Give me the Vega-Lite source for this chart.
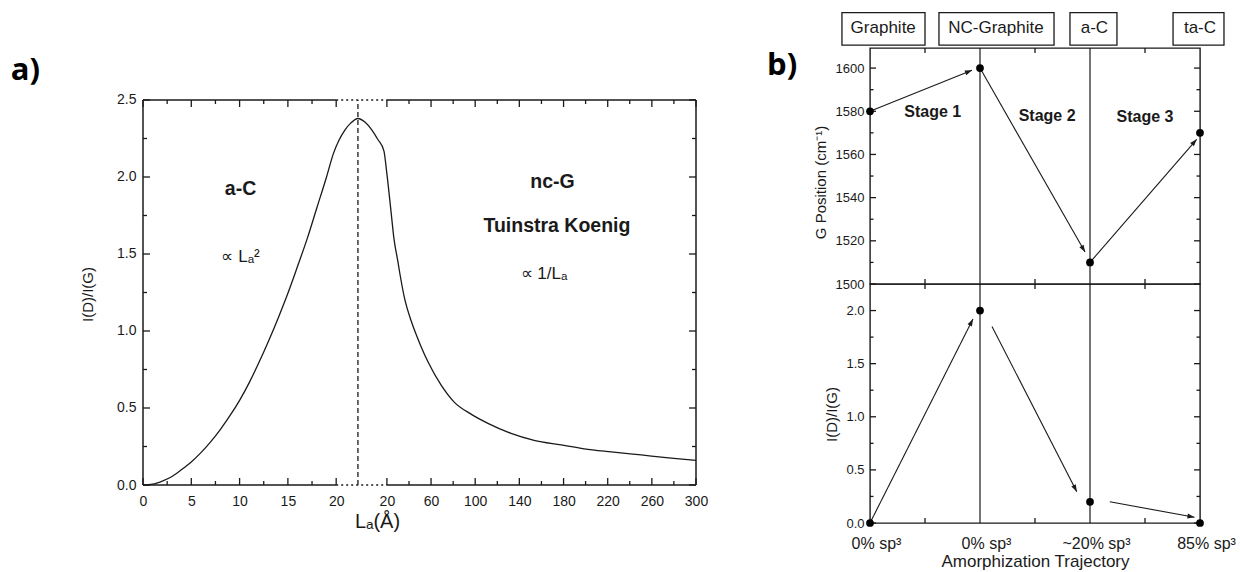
{
"$schema": "https://vega.github.io/schema/vega-lite/v6.json",
"background": "white",
"padding": {"left": 10, "top": 12, "right": 0, "bottom": 0},
"config": {
  "font": "Liberation Sans",
  "view": {"stroke": null},
  "axis": {"domain": false, "grid": false, "ticks": false, "minExtent": 0, "labelColor": "#1a1a1a", "titleColor": "#1a1a1a", "titleFontWeight": "normal", "labelFont": "Liberation Sans", "titleFont": "Liberation Sans"},
  "rule": {"color": "#1a1a1a"},
  "text": {"font": "Liberation Sans", "color": "#1a1a1a"}
},
"datasets": {
  "curve": [
    {"pos":0,"ratio":0},{"pos":1,"ratio":0.005},{"pos":2,"ratio":0.025},{"pos":3,"ratio":0.055},{"pos":4,"ratio":0.1},
    {"pos":5,"ratio":0.15},{"pos":6,"ratio":0.21},{"pos":7,"ratio":0.28},{"pos":8,"ratio":0.36},{"pos":9,"ratio":0.45},
    {"pos":10,"ratio":0.55},{"pos":11,"ratio":0.665},{"pos":12,"ratio":0.795},{"pos":13,"ratio":0.935},{"pos":14,"ratio":1.085},
    {"pos":15,"ratio":1.245},{"pos":16,"ratio":1.42},{"pos":17,"ratio":1.6},{"pos":18,"ratio":1.8},{"pos":19,"ratio":2.0},
    {"pos":19.7,"ratio":2.15},{"pos":20.3,"ratio":2.24},{"pos":20.9,"ratio":2.305},{"pos":21.5,"ratio":2.35},{"pos":22.25,"ratio":2.38},
    {"pos":23.0,"ratio":2.355},{"pos":23.7,"ratio":2.305},{"pos":24.3,"ratio":2.245},{"pos":24.94,"ratio":2.17},
    {"pos":25.25,"ratio":2.02},{"pos":25.67,"ratio":1.78},{"pos":25.98,"ratio":1.6},{"pos":26.39,"ratio":1.45},{"pos":26.6,"ratio":1.37},
    {"pos":27.12,"ratio":1.2},{"pos":27.74,"ratio":1.07},{"pos":28.26,"ratio":0.98},{"pos":28.78,"ratio":0.9},{"pos":29.5,"ratio":0.8},
    {"pos":30.85,"ratio":0.65},{"pos":32.19,"ratio":0.54},{"pos":33.96,"ratio":0.46},{"pos":35.71,"ratio":0.4},{"pos":38.1,"ratio":0.335},
    {"pos":40.49,"ratio":0.29},{"pos":43.29,"ratio":0.26},{"pos":45.67,"ratio":0.235},{"pos":48.47,"ratio":0.215},{"pos":51.57,"ratio":0.195},
    {"pos":54.68,"ratio":0.175},{"pos":57.25,"ratio":0.16}
  ],
  "aTicksX": [
    {"pos":0,"edge":0,"kind":"major"},{"pos":5,"edge":0,"kind":"major"},{"pos":10,"edge":0,"kind":"major"},{"pos":15,"edge":0,"kind":"major"},{"pos":20,"edge":0,"kind":"major"},
    {"pos":25.25,"edge":0,"kind":"major"},{"pos":29.82,"edge":0,"kind":"major"},{"pos":34.39,"edge":0,"kind":"major"},{"pos":38.96,"edge":0,"kind":"major"},
    {"pos":43.54,"edge":0,"kind":"major"},{"pos":48.11,"edge":0,"kind":"major"},{"pos":52.68,"edge":0,"kind":"major"},{"pos":57.25,"edge":0,"kind":"major"},
    {"pos":0,"edge":2.5,"kind":"major"},{"pos":5,"edge":2.5,"kind":"major"},{"pos":10,"edge":2.5,"kind":"major"},{"pos":15,"edge":2.5,"kind":"major"},{"pos":20,"edge":2.5,"kind":"major"},
    {"pos":25.25,"edge":2.5,"kind":"major"},{"pos":29.82,"edge":2.5,"kind":"major"},{"pos":34.39,"edge":2.5,"kind":"major"},{"pos":38.96,"edge":2.5,"kind":"major"},
    {"pos":43.54,"edge":2.5,"kind":"major"},{"pos":48.11,"edge":2.5,"kind":"major"},{"pos":52.68,"edge":2.5,"kind":"major"},{"pos":57.25,"edge":2.5,"kind":"major"},
    {"pos":2.5,"edge":0,"kind":"minor"},{"pos":7.5,"edge":0,"kind":"minor"},{"pos":12.5,"edge":0,"kind":"minor"},{"pos":17.5,"edge":0,"kind":"minor"},
    {"pos":27.54,"edge":0,"kind":"minor"},{"pos":32.11,"edge":0,"kind":"minor"},{"pos":36.68,"edge":0,"kind":"minor"},{"pos":41.25,"edge":0,"kind":"minor"},
    {"pos":45.82,"edge":0,"kind":"minor"},{"pos":50.39,"edge":0,"kind":"minor"},{"pos":54.96,"edge":0,"kind":"minor"},
    {"pos":2.5,"edge":2.5,"kind":"minor"},{"pos":7.5,"edge":2.5,"kind":"minor"},{"pos":12.5,"edge":2.5,"kind":"minor"},{"pos":17.5,"edge":2.5,"kind":"minor"},
    {"pos":27.54,"edge":2.5,"kind":"minor"},{"pos":32.11,"edge":2.5,"kind":"minor"},{"pos":36.68,"edge":2.5,"kind":"minor"},{"pos":41.25,"edge":2.5,"kind":"minor"},
    {"pos":45.82,"edge":2.5,"kind":"minor"},{"pos":50.39,"edge":2.5,"kind":"minor"},{"pos":54.96,"edge":2.5,"kind":"minor"}
  ],
  "aTicksY": [
    {"v":0,"edge":0,"kind":"major"},{"v":0.5,"edge":0,"kind":"major"},{"v":1,"edge":0,"kind":"major"},{"v":1.5,"edge":0,"kind":"major"},{"v":2,"edge":0,"kind":"major"},{"v":2.5,"edge":0,"kind":"major"},
    {"v":0,"edge":57.25,"kind":"major"},{"v":0.5,"edge":57.25,"kind":"major"},{"v":1,"edge":57.25,"kind":"major"},{"v":1.5,"edge":57.25,"kind":"major"},{"v":2,"edge":57.25,"kind":"major"},{"v":2.5,"edge":57.25,"kind":"major"},
    {"v":0.25,"edge":0,"kind":"minor"},{"v":0.75,"edge":0,"kind":"minor"},{"v":1.25,"edge":0,"kind":"minor"},{"v":1.75,"edge":0,"kind":"minor"},{"v":2.25,"edge":0,"kind":"minor"},
    {"v":0.25,"edge":57.25,"kind":"minor"},{"v":0.75,"edge":57.25,"kind":"minor"},{"v":1.25,"edge":57.25,"kind":"minor"},{"v":1.75,"edge":57.25,"kind":"minor"},{"v":2.25,"edge":57.25,"kind":"minor"}
  ],
  "gTicksX": [
    {"s":0.5,"edge":1500},{"s":1.5,"edge":1500},{"s":2.5,"edge":1500},
    {"s":0.5,"edge":1609.3},{"s":1.5,"edge":1609.3},{"s":2.5,"edge":1609.3}
  ],
  "gTicksY": [
    {"v":1500,"edge":0,"kind":"major"},{"v":1520,"edge":0,"kind":"major"},{"v":1540,"edge":0,"kind":"major"},{"v":1560,"edge":0,"kind":"major"},{"v":1580,"edge":0,"kind":"major"},{"v":1600,"edge":0,"kind":"major"},
    {"v":1500,"edge":3,"kind":"major"},{"v":1520,"edge":3,"kind":"major"},{"v":1540,"edge":3,"kind":"major"},{"v":1560,"edge":3,"kind":"major"},{"v":1580,"edge":3,"kind":"major"},{"v":1600,"edge":3,"kind":"major"},
    {"v":1510,"edge":0,"kind":"minor"},{"v":1530,"edge":0,"kind":"minor"},{"v":1550,"edge":0,"kind":"minor"},{"v":1570,"edge":0,"kind":"minor"},{"v":1590,"edge":0,"kind":"minor"},
    {"v":1510,"edge":3,"kind":"minor"},{"v":1530,"edge":3,"kind":"minor"},{"v":1550,"edge":3,"kind":"minor"},{"v":1570,"edge":3,"kind":"minor"},{"v":1590,"edge":3,"kind":"minor"}
  ],
  "rTicksX": [
    {"s":0.5,"edge":0},{"s":1.5,"edge":0},{"s":2.5,"edge":0},
    {"s":0.5,"edge":2.25},{"s":1.5,"edge":2.25},{"s":2.5,"edge":2.25}
  ],
  "rTicksY": [
    {"v":0,"edge":0,"kind":"major"},{"v":0.5,"edge":0,"kind":"major"},{"v":1,"edge":0,"kind":"major"},{"v":1.5,"edge":0,"kind":"major"},{"v":2,"edge":0,"kind":"major"},
    {"v":0,"edge":3,"kind":"major"},{"v":0.5,"edge":3,"kind":"major"},{"v":1,"edge":3,"kind":"major"},{"v":1.5,"edge":3,"kind":"major"},{"v":2,"edge":3,"kind":"major"},
    {"v":0.25,"edge":0,"kind":"minor"},{"v":0.75,"edge":0,"kind":"minor"},{"v":1.25,"edge":0,"kind":"minor"},{"v":1.75,"edge":0,"kind":"minor"},
    {"v":0.25,"edge":3,"kind":"minor"},{"v":0.75,"edge":3,"kind":"minor"},{"v":1.25,"edge":3,"kind":"minor"},{"v":1.75,"edge":3,"kind":"minor"}
  ],
  "annotBold": [
    {"pos":10.1,"ratio":1.92,"label":"a-C"},
    {"pos":42.4,"ratio":1.97,"label":"nc-G"},
    {"pos":42.85,"ratio":1.68,"label":"Tuinstra Koenig"}
  ],
  "annotPlain": [
    {"pos":10.1,"ratio":1.48,"label":"∝ Lₐ²"},
    {"pos":41.5,"ratio":1.37,"label":"∝ 1/Lₐ"}
  ],
  "header": [
    {"label":"Graphite","from":-0.255,"to":0.5,"mid":0.12},
    {"label":"NC-Graphite","from":0.627,"to":1.673,"mid":1.145},
    {"label":"a-C","from":1.818,"to":2.245,"mid":2.04},
    {"label":"ta-C","from":2.755,"to":3.218,"mid":3.0}
  ],
  "gPos": [{"step":0,"g":1580},{"step":1,"g":1600},{"step":2,"g":1510},{"step":3,"g":1570}],
  "ratioB": [{"step":0,"r":0},{"step":1,"r":2.0},{"step":2,"r":0.2},{"step":3,"r":0.0}],
  "gArrows": [
    {"seg":1,"x0":0,"y0":1580,"x1":0.927,"y1":1599},
    {"seg":2,"x0":1,"y0":1600,"x1":1.955,"y1":1514.8},
    {"seg":3,"x0":2,"y0":1510,"x1":2.97,"y1":1567}
  ],
  "rArrows": [
    {"seg":1,"x0":0,"y0":0,"x1":0.936,"y1":1.92},
    {"seg":2,"x0":1.109,"y0":1.85,"x1":1.88,"y1":0.295},
    {"seg":3,"x0":2.18,"y0":0.2,"x1":2.95,"y1":0.054}
  ],
  "stages": [
    {"label":"Stage 1","step":0.57,"g":1579.6},
    {"label":"Stage 2","step":1.61,"g":1577.8},
    {"label":"Stage 3","step":2.5,"g":1577.3}
  ]
},
"spacing": 58,
"hconcat": [
  {
    "width": 553, "height": 473,
    "encoding": {
      "x": {"type": "quantitative", "scale": {"domain": [0, 57.25], "nice": false, "zero": false},
            "axis": {"orient": "bottom", "values": [0,5,10,15,20,25.25,29.82,34.39,38.96,43.54,48.11,52.68,57.25],
                     "labelExpr": "datum.value <= 20.01 ? format(datum.value, 'd') : format(round(20 + (datum.value - 25.25) / 0.11429), 'd')",
                     "labelPadding": 9, "labelFontSize": 14, "labelFlush": false, "labelOverlap": false,
                     "title": "Lₐ(Å)", "titleFontSize": 20, "titlePadding": 3, "titleX": 234}},
      "y": {"type": "quantitative", "scale": {"domain": [0, 3.0714], "nice": false, "zero": false},
            "axis": {"orient": "left", "values": [0,0.5,1,1.5,2,2.5], "format": ".1f", "labelPadding": 7, "labelFontSize": 14,
                     "title": "I(D)/I(G)", "titleFontSize": 15, "titlePadding": 21, "titleY": 282}}
    },
    "layer": [
      {"data": {"name": "curve"},
       "mark": {"type": "line", "color": "#1a1a1a", "strokeWidth": 1.3, "interpolate": "monotone"},
       "encoding": {"x": {"field": "pos"}, "y": {"field": "ratio"}}},
      {"data": {"name": "aTicksX"}, "transform": [{"filter": "datum.edge == 0 && datum.kind == 'major'"}],
       "mark": {"type": "point", "shape": "M0,0L0,-1", "filled": false, "size": 196, "strokeWidth": 1.3, "color": "#1a1a1a", "opacity": 1},
       "encoding": {"x": {"field": "pos"}, "y": {"field": "edge"}}},
      {"data": {"name": "aTicksX"}, "transform": [{"filter": "datum.edge == 0 && datum.kind == 'minor'"}],
       "mark": {"type": "point", "shape": "M0,0L0,-1", "filled": false, "size": 64, "strokeWidth": 1.3, "color": "#1a1a1a", "opacity": 1},
       "encoding": {"x": {"field": "pos"}, "y": {"field": "edge"}}},
      {"data": {"name": "aTicksX"}, "transform": [{"filter": "datum.edge > 0 && datum.kind == 'major'"}],
       "mark": {"type": "point", "shape": "M0,0L0,1", "filled": false, "size": 196, "strokeWidth": 1.3, "color": "#1a1a1a", "opacity": 1},
       "encoding": {"x": {"field": "pos"}, "y": {"field": "edge"}}},
      {"data": {"name": "aTicksX"}, "transform": [{"filter": "datum.edge > 0 && datum.kind == 'minor'"}],
       "mark": {"type": "point", "shape": "M0,0L0,1", "filled": false, "size": 64, "strokeWidth": 1.3, "color": "#1a1a1a", "opacity": 1},
       "encoding": {"x": {"field": "pos"}, "y": {"field": "edge"}}},
      {"data": {"name": "aTicksY"}, "transform": [{"filter": "datum.edge == 0 && datum.kind == 'major'"}],
       "mark": {"type": "point", "shape": "M0,0L1,0", "filled": false, "size": 196, "strokeWidth": 1.3, "color": "#1a1a1a", "opacity": 1},
       "encoding": {"x": {"field": "edge"}, "y": {"field": "v"}}},
      {"data": {"name": "aTicksY"}, "transform": [{"filter": "datum.edge == 0 && datum.kind == 'minor'"}],
       "mark": {"type": "point", "shape": "M0,0L1,0", "filled": false, "size": 64, "strokeWidth": 1.3, "color": "#1a1a1a", "opacity": 1},
       "encoding": {"x": {"field": "edge"}, "y": {"field": "v"}}},
      {"data": {"name": "aTicksY"}, "transform": [{"filter": "datum.edge > 0 && datum.kind == 'major'"}],
       "mark": {"type": "point", "shape": "M0,0L-1,0", "filled": false, "size": 196, "strokeWidth": 1.3, "color": "#1a1a1a", "opacity": 1},
       "encoding": {"x": {"field": "edge"}, "y": {"field": "v"}}},
      {"data": {"name": "aTicksY"}, "transform": [{"filter": "datum.edge > 0 && datum.kind == 'minor'"}],
       "mark": {"type": "point", "shape": "M0,0L-1,0", "filled": false, "size": 64, "strokeWidth": 1.3, "color": "#1a1a1a", "opacity": 1},
       "encoding": {"x": {"field": "edge"}, "y": {"field": "v"}}},
      {"data": {"values": [{}]}, "mark": {"type": "rule", "strokeWidth": 1.5},
       "encoding": {"x": {"datum": 0}, "y": {"datum": 0}, "y2": {"datum": 2.5}}},
      {"data": {"values": [{}]}, "mark": {"type": "rule", "strokeWidth": 1.5},
       "encoding": {"x": {"datum": 57.25}, "y": {"datum": 0}, "y2": {"datum": 2.5}}},
      {"data": {"values": [{}]}, "mark": {"type": "rule", "strokeWidth": 1.5},
       "encoding": {"x": {"datum": 0}, "x2": {"datum": 20}, "y": {"datum": 0}}},
      {"data": {"values": [{}]}, "mark": {"type": "rule", "strokeWidth": 1.5},
       "encoding": {"x": {"datum": 25.25}, "x2": {"datum": 57.25}, "y": {"datum": 0}}},
      {"data": {"values": [{}]}, "mark": {"type": "rule", "strokeWidth": 1.5},
       "encoding": {"x": {"datum": 0}, "x2": {"datum": 20}, "y": {"datum": 2.5}}},
      {"data": {"values": [{}]}, "mark": {"type": "rule", "strokeWidth": 1.5},
       "encoding": {"x": {"datum": 25.25}, "x2": {"datum": 57.25}, "y": {"datum": 2.5}}},
      {"data": {"values": [{}]}, "mark": {"type": "rule", "strokeWidth": 1.4, "strokeDash": [2, 3]},
       "encoding": {"x": {"datum": 20}, "x2": {"datum": 25.25}, "y": {"datum": 0}}},
      {"data": {"values": [{}]}, "mark": {"type": "rule", "strokeWidth": 1.4, "strokeDash": [2, 3]},
       "encoding": {"x": {"datum": 20}, "x2": {"datum": 25.25}, "y": {"datum": 2.5}}},
      {"data": {"values": [{}]}, "mark": {"type": "rule", "strokeWidth": 1.3, "strokeDash": [5, 3]},
       "encoding": {"x": {"datum": 22.25}, "y": {"datum": 0}, "y2": {"datum": 2.5}}},
      {"data": {"name": "annotBold"},
       "mark": {"type": "text", "fontSize": 19.5, "fontWeight": "bold", "align": "center", "baseline": "middle"},
       "encoding": {"x": {"field": "pos"}, "y": {"field": "ratio"}, "text": {"field": "label"}}},
      {"data": {"name": "annotPlain"},
       "mark": {"type": "text", "fontSize": 17, "align": "center", "baseline": "middle"},
       "encoding": {"x": {"field": "pos"}, "y": {"field": "ratio"}, "text": {"field": "label"}}},
      {"data": {"values": [{}]},
       "mark": {"type": "text", "text": "a)", "font": "Open Sans", "fontSize": 31, "fontWeight": "bold", "align": "left", "baseline": "middle", "color": "#000"},
       "encoding": {"x": {"datum": -13.7}, "y": {"datum": 2.69}}}
    ]
  },
  {
    "spacing": 0,
    "bounds": "flush",
    "vconcat": [
      {
        "width": 330, "height": 36,
        "encoding": {
          "x": {"type": "quantitative", "scale": {"domain": [0, 3], "nice": false, "zero": false}, "axis": null},
          "y": {"type": "quantitative", "scale": {"domain": [0, 1], "nice": false, "zero": false}, "axis": null}
        },
        "layer": [
          {"data": {"name": "header"},
           "mark": {"type": "rect", "fill": "white", "stroke": "#1a1a1a", "strokeWidth": 1.3},
           "encoding": {"x": {"field": "from"}, "x2": {"field": "to"}, "y": {"datum": 0.08}, "y2": {"datum": 0.98}}},
          {"data": {"name": "header"},
           "mark": {"type": "text", "fontSize": 17, "align": "center", "baseline": "middle"},
           "encoding": {"x": {"field": "mid"}, "y": {"datum": 0.55}, "text": {"field": "label"}}}
        ]
      },
      {
        "width": 330, "height": 236,
        "view": {"stroke": "#1a1a1a", "strokeWidth": 1.4},
        "encoding": {
          "x": {"type": "quantitative", "scale": {"domain": [0, 3], "nice": false, "zero": false}, "axis": null},
          "y": {"type": "quantitative", "scale": {"domain": [1500, 1609.3], "nice": false, "zero": false},
                "axis": {"orient": "left", "values": [1500,1520,1540,1560,1580,1600], "format": "d", "labelPadding": 6, "labelFontSize": 13,
                         "title": "G Position (cm⁻¹)", "titleFontSize": 15, "titlePadding": 7, "titleY": 134}}
        },
        "layer": [
          {"data": {"values": [{}]}, "mark": {"type": "rule", "strokeWidth": 1.2},
           "encoding": {"x": {"datum": 1}, "y": {"datum": 1500}, "y2": {"datum": 1609.3}}},
          {"data": {"values": [{}]}, "mark": {"type": "rule", "strokeWidth": 1.2},
           "encoding": {"x": {"datum": 2}, "y": {"datum": 1500}, "y2": {"datum": 1609.3}}},
          {"data": {"name": "gTicksX"}, "transform": [{"filter": "datum.edge < 1600"}],
           "mark": {"type": "point", "shape": "M0,0L0,-1", "filled": false, "size": 100, "strokeWidth": 1.3, "color": "#1a1a1a", "opacity": 1},
           "encoding": {"x": {"field": "s"}, "y": {"field": "edge"}}},
          {"data": {"name": "gTicksX"}, "transform": [{"filter": "datum.edge > 1600"}],
           "mark": {"type": "point", "shape": "M0,0L0,1", "filled": false, "size": 100, "strokeWidth": 1.3, "color": "#1a1a1a", "opacity": 1},
           "encoding": {"x": {"field": "s"}, "y": {"field": "edge"}}},
          {"data": {"name": "gTicksY"}, "transform": [{"filter": "datum.edge == 0 && datum.kind == 'major'"}],
           "mark": {"type": "point", "shape": "M0,0L1,0", "filled": false, "size": 144, "strokeWidth": 1.3, "color": "#1a1a1a", "opacity": 1},
           "encoding": {"x": {"field": "edge"}, "y": {"field": "v"}}},
          {"data": {"name": "gTicksY"}, "transform": [{"filter": "datum.edge == 0 && datum.kind == 'minor'"}],
           "mark": {"type": "point", "shape": "M0,0L1,0", "filled": false, "size": 49, "strokeWidth": 1.3, "color": "#1a1a1a", "opacity": 1},
           "encoding": {"x": {"field": "edge"}, "y": {"field": "v"}}},
          {"data": {"name": "gTicksY"}, "transform": [{"filter": "datum.edge > 0 && datum.kind == 'major'"}],
           "mark": {"type": "point", "shape": "M0,0L-1,0", "filled": false, "size": 144, "strokeWidth": 1.3, "color": "#1a1a1a", "opacity": 1},
           "encoding": {"x": {"field": "edge"}, "y": {"field": "v"}}},
          {"data": {"name": "gTicksY"}, "transform": [{"filter": "datum.edge > 0 && datum.kind == 'minor'"}],
           "mark": {"type": "point", "shape": "M0,0L-1,0", "filled": false, "size": 49, "strokeWidth": 1.3, "color": "#1a1a1a", "opacity": 1},
           "encoding": {"x": {"field": "edge"}, "y": {"field": "v"}}},
          {"data": {"name": "gArrows"}, "mark": {"type": "rule", "strokeWidth": 1.1},
           "encoding": {"x": {"field": "x0"}, "x2": {"field": "x1"}, "y": {"field": "y0"}, "y2": {"field": "y1"}}},
          {"data": {"name": "gArrows"}, "transform": [{"filter": "datum.seg == 1"}],
           "mark": {"type": "point", "shape": "M0,0L-0.35,1L0.35,1Z", "filled": true, "size": 200, "angle": 68, "color": "#1a1a1a", "opacity": 1},
           "encoding": {"x": {"field": "x1"}, "y": {"field": "y1"}}},
          {"data": {"name": "gArrows"}, "transform": [{"filter": "datum.seg == 2"}],
           "mark": {"type": "point", "shape": "M0,0L-0.35,1L0.35,1Z", "filled": true, "size": 200, "angle": 150, "color": "#1a1a1a", "opacity": 1},
           "encoding": {"x": {"field": "x1"}, "y": {"field": "y1"}}},
          {"data": {"name": "gArrows"}, "transform": [{"filter": "datum.seg == 3"}],
           "mark": {"type": "point", "shape": "M0,0L-0.35,1L0.35,1Z", "filled": true, "size": 200, "angle": 41, "color": "#1a1a1a", "opacity": 1},
           "encoding": {"x": {"field": "x1"}, "y": {"field": "y1"}}},
          {"data": {"name": "gPos"},
           "mark": {"type": "point", "shape": "circle", "filled": true, "size": 60, "color": "#000", "opacity": 1},
           "encoding": {"x": {"field": "step"}, "y": {"field": "g"}}},
          {"data": {"name": "stages"},
           "mark": {"type": "text", "fontSize": 16, "fontWeight": "bold", "align": "center", "baseline": "middle"},
           "encoding": {"x": {"field": "step"}, "y": {"field": "g"}, "text": {"field": "label"}}},
          {"data": {"values": [{}]},
           "mark": {"type": "text", "text": "b)", "font": "Open Sans", "fontSize": 31, "fontWeight": "bold", "align": "left", "baseline": "middle", "color": "#000"},
           "encoding": {"x": {"datum": -0.936}, "y": {"datum": 1600.9}}}
        ]
      },
      {
        "width": 330, "height": 239,
        "view": {"stroke": "#1a1a1a", "strokeWidth": 1.4},
        "encoding": {
          "x": {"type": "quantitative", "scale": {"domain": [0, 3], "nice": false, "zero": false},
                "axis": {"orient": "bottom", "values": [0,1,2,3], "labelExpr": "['0% sp³','0% sp³','~20% sp³','85% sp³'][datum.value]",
                         "labelPadding": 12, "labelFontSize": 16, "labelOffset": 6, "labelFlush": false, "labelOverlap": false,
                         "title": "Amorphization Trajectory", "titleFontSize": 17, "titlePadding": 2}},
          "y": {"type": "quantitative", "scale": {"domain": [0, 2.25], "nice": false, "zero": false},
                "axis": {"orient": "left", "values": [0,0.5,1,1.5,2], "format": ".1f", "labelPadding": 6, "labelFontSize": 13,
                         "title": "I(D)/I(G)", "titleFontSize": 15, "titlePadding": 6, "titleY": 130}}
        },
        "layer": [
          {"data": {"values": [{}]}, "mark": {"type": "rule", "strokeWidth": 1.2},
           "encoding": {"x": {"datum": 1}, "y": {"datum": 0}, "y2": {"datum": 2.25}}},
          {"data": {"values": [{}]}, "mark": {"type": "rule", "strokeWidth": 1.2},
           "encoding": {"x": {"datum": 2}, "y": {"datum": 0}, "y2": {"datum": 2.25}}},
          {"data": {"name": "rTicksX"}, "transform": [{"filter": "datum.edge == 0"}],
           "mark": {"type": "point", "shape": "M0,0L0,-1", "filled": false, "size": 100, "strokeWidth": 1.3, "color": "#1a1a1a", "opacity": 1},
           "encoding": {"x": {"field": "s"}, "y": {"field": "edge"}}},
          {"data": {"name": "rTicksX"}, "transform": [{"filter": "datum.edge > 0"}],
           "mark": {"type": "point", "shape": "M0,0L0,1", "filled": false, "size": 100, "strokeWidth": 1.3, "color": "#1a1a1a", "opacity": 1},
           "encoding": {"x": {"field": "s"}, "y": {"field": "edge"}}},
          {"data": {"name": "rTicksY"}, "transform": [{"filter": "datum.edge == 0 && datum.kind == 'major'"}],
           "mark": {"type": "point", "shape": "M0,0L1,0", "filled": false, "size": 144, "strokeWidth": 1.3, "color": "#1a1a1a", "opacity": 1},
           "encoding": {"x": {"field": "edge"}, "y": {"field": "v"}}},
          {"data": {"name": "rTicksY"}, "transform": [{"filter": "datum.edge == 0 && datum.kind == 'minor'"}],
           "mark": {"type": "point", "shape": "M0,0L1,0", "filled": false, "size": 49, "strokeWidth": 1.3, "color": "#1a1a1a", "opacity": 1},
           "encoding": {"x": {"field": "edge"}, "y": {"field": "v"}}},
          {"data": {"name": "rTicksY"}, "transform": [{"filter": "datum.edge > 0 && datum.kind == 'major'"}],
           "mark": {"type": "point", "shape": "M0,0L-1,0", "filled": false, "size": 144, "strokeWidth": 1.3, "color": "#1a1a1a", "opacity": 1},
           "encoding": {"x": {"field": "edge"}, "y": {"field": "v"}}},
          {"data": {"name": "rTicksY"}, "transform": [{"filter": "datum.edge > 0 && datum.kind == 'minor'"}],
           "mark": {"type": "point", "shape": "M0,0L-1,0", "filled": false, "size": 49, "strokeWidth": 1.3, "color": "#1a1a1a", "opacity": 1},
           "encoding": {"x": {"field": "edge"}, "y": {"field": "v"}}},
          {"data": {"name": "rArrows"}, "mark": {"type": "rule", "strokeWidth": 1.1},
           "encoding": {"x": {"field": "x0"}, "x2": {"field": "x1"}, "y": {"field": "y0"}, "y2": {"field": "y1"}}},
          {"data": {"name": "rArrows"}, "transform": [{"filter": "datum.seg == 1"}],
           "mark": {"type": "point", "shape": "M0,0L-0.35,1L0.35,1Z", "filled": true, "size": 200, "angle": 27, "color": "#1a1a1a", "opacity": 1},
           "encoding": {"x": {"field": "x1"}, "y": {"field": "y1"}}},
          {"data": {"name": "rArrows"}, "transform": [{"filter": "datum.seg == 2"}],
           "mark": {"type": "point", "shape": "M0,0L-0.35,1L0.35,1Z", "filled": true, "size": 200, "angle": 153, "color": "#1a1a1a", "opacity": 1},
           "encoding": {"x": {"field": "x1"}, "y": {"field": "y1"}}},
          {"data": {"name": "rArrows"}, "transform": [{"filter": "datum.seg == 3"}],
           "mark": {"type": "point", "shape": "M0,0L-0.35,1L0.35,1Z", "filled": true, "size": 200, "angle": 100, "color": "#1a1a1a", "opacity": 1},
           "encoding": {"x": {"field": "x1"}, "y": {"field": "y1"}}},
          {"data": {"name": "ratioB"},
           "mark": {"type": "point", "shape": "circle", "filled": true, "size": 60, "color": "#000", "opacity": 1},
           "encoding": {"x": {"field": "step"}, "y": {"field": "r"}}}
        ]
      }
    ]
  }
]
}
